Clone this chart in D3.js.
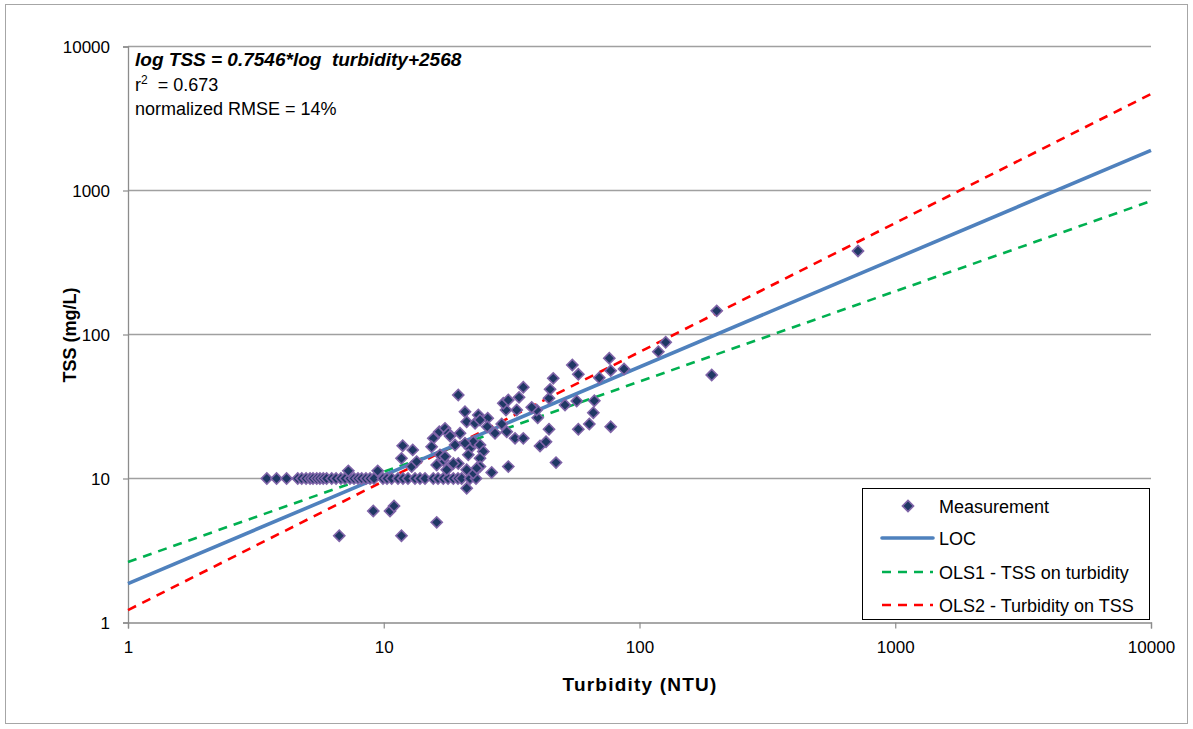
<!DOCTYPE html>
<html><head><meta charset="utf-8">
<script src="https://cdn.jsdelivr.net/npm/d3@7/dist/d3.min.js"></script>
<style>body{margin:0;background:#fff}svg{display:block;font-family:"Liberation Sans",Arial,sans-serif}</style>
</head><body><svg id="c" width="1193" height="729"></svg>
<script>
// ---- data ----
const turbidity = [3.49,3.81,4.17,4.61,4.78,4.97,5.15,5.29,5.47,5.63,5.80,5.98,6.26,6.51,6.80,7.06,7.38,7.65,7.93,8.20,8.52,8.84,9.16,9.93,10.3,10.74,11.37,11.89,12.44,13.25,13.86,14.5,15.62,16.3,17.09,17.84,18.71,19.51,20.17,21.74,22.95,
 7.27,9.47,11.86,12.98,11.73,12.86,15.62,16.49,17.36,15.39,16.11,17.09,17.63,19.56,20.78,21.10,23.43,22.75,21.74,22.39,19.56,21.10,22.39,19.0,19.87,17.88,16.59,18.16,20.78,23.79,24.51,23.79,21.41,21.10,23.79,17.36,18.71,13.45,25.5,27.23,25.40,28.92,30.26,32.61,35.13,30.69,26.43,47.16,40.83,43.10,44.28,57.65,63.65,77.15,65.99,66.59,56.82,51.14,39.99,39.63,37.89,33.11,30.06,29.34,30.69,33.81,35.13,44.28,44.7,46.0,54.62,57.65,69.62,76.2,77.15,87.0,118.5,126.6,191.6,200.4,715,23.09,23.79,6.70,9.10,10.58,10.97,11.73,16.11];
const tss = [10,10,10,10,10,10,10,10,10,10,10,10,10,10,10,10,10,10,10,10,10,10,10,10,10,10,10,10,10,10,10,10,10,10,10,10,10,10,10,10,10,
 11.3,11.3,16.9,15.8,13.8,12.1,19.0,21.1,22.3,16.6,12.4,13.4,11.5,38.0,29.1,24.8,27.6,24.2,16.2,18.0,12.7,8.55,10.9,17.1,20.6,20.6,14.6,19.7,17.6,17.1,15.4,13.8,14.6,11.5,12.1,14.2,12.7,13.1,26.2,20.6,22.9,23.9,21.1,19.0,19.0,12.1,11.0,12.9,16.8,18.0,22.0,22.0,23.9,22.9,28.6,34.7,34.5,32.4,26.4,29.9,31.2,29.9,29.9,33.3,35.1,36.6,43.0,36.1,41.6,49.6,61.4,52.9,50.1,68.4,56.1,57.6,76.0,88.3,52.3,146,380,11.8,25.5,4.0,5.95,5.95,6.44,4.0,4.96];
const lineX = [1, 10000];
const locY  = [1.86, 1900];
const ols1Y = [2.63, 845];
const ols2Y = [1.22, 4680];
const xTicks = [1, 10, 100, 1000, 10000];
const yTicks = [1, 10, 100, 1000, 10000];
const legendLabels = ["Measurement", "LOC", "OLS1 - TSS on turbidity", "OLS2 - Turbidity on TSS"];

// ---- chart ----
const svg = d3.select("#c");
const L = 128, R = 1151, T = 46.5, B = 622.5;
const x = d3.scaleLog().domain([1, 10000]).range([L, R]);
const y = d3.scaleLog().domain([1, 10000]).range([B, T]);

svg.append("rect").attr("x", 5.5).attr("y", 4.5).attr("width", 1182).attr("height", 719)
  .attr("fill", "#fff").attr("stroke", "#a6a6a6").attr("stroke-width", 1);

// gridlines
svg.append("g").selectAll("line").data(yTicks.slice(1)).join("line")
  .attr("x1", L).attr("x2", R).attr("y1", d => y(d)).attr("y2", d => y(d))
  .attr("stroke", "#a0a0a0").attr("stroke-width", 1.3);

// axes
const fmt = d => String(d);
const yAxis = svg.append("g").attr("transform", `translate(${L},0)`)
  .call(d3.axisLeft(y).tickValues(yTicks).tickFormat(fmt).tickSize(5).tickPadding(13));
const xAxis = svg.append("g").attr("transform", `translate(0,${B})`)
  .call(d3.axisBottom(x).tickValues(xTicks).tickFormat(fmt).tickSize(6).tickPadding(12));
[xAxis, yAxis].forEach(g => {
  g.select(".domain").attr("stroke", "#8c8c8c").attr("stroke-width", 1.3);
  g.selectAll(".tick line").attr("stroke", "#8c8c8c").attr("stroke-width", 1.2);
  g.selectAll(".tick text").attr("fill", "#000").style("font-size", "17px")
   .style("font-family", '"Liberation Sans", Arial, sans-serif');
});
yAxis.selectAll(".tick text").attr("dy", "0.36em");

// axis titles
svg.append("text").attr("x", 640).attr("y", 691).attr("text-anchor", "middle")
  .style("font-size", "19px").style("font-weight", "bold").style("letter-spacing", "1.2px").text("Turbidity (NTU)");
svg.append("text").attr("transform", "translate(76,335) rotate(-90)").attr("text-anchor", "middle")
  .style("font-size", "18px").style("font-weight", "bold").text("TSS (mg/L)");

// lines
const lineGen = d3.line().x(d => x(d[0])).y(d => y(d[1]));
const mk = ys => lineX.map((v, i) => [v, ys[i]]);
svg.append("path").datum(mk(ols1Y)).attr("d", lineGen).attr("fill", "none")
  .attr("stroke", "#00b050").attr("stroke-width", 2.6).attr("stroke-dasharray", "9,7");
svg.append("path").datum(mk(ols2Y)).attr("d", lineGen).attr("fill", "none")
  .attr("stroke", "#ff0000").attr("stroke-width", 2.6).attr("stroke-dasharray", "9,7");
svg.append("path").datum(mk(locY)).attr("d", lineGen).attr("fill", "none")
  .attr("stroke", "#4f81bd").attr("stroke-width", 3.6);

// points
const pts = turbidity.map((t, i) => [t, tss[i]]);
const diamond = d3.symbol().type(d3.symbolSquare).size(62);
svg.append("g").selectAll("path").data(pts).join("path")
  .attr("d", diamond)
  .attr("transform", d => `translate(${x(d[0])},${y(d[1])}) rotate(45)`)
  .attr("fill", "#1f3864").attr("stroke", "#7f64a8").attr("stroke-width", 1.6);

// annotation
const ann = svg.append("g").style("font-size", "18px");
ann.append("text").attr("x", 135).attr("y", 66).style("font-weight", "bold").style("font-style", "italic")
  .style("font-size", "19px").style("white-space", "pre").text("log TSS = 0.7546*log  turbidity+2568");
const r2 = ann.append("text").attr("x", 135).attr("y", 91).style("white-space", "pre");
r2.append("tspan").text("r");
r2.append("tspan").attr("dy", -7).style("font-size", "12px").text("2");
r2.append("tspan").attr("dy", 7).text("  = 0.673");
ann.append("text").attr("x", 135).attr("y", 115).text("normalized RMSE = 14%");

// legend
const lg = svg.append("g");
lg.append("rect").attr("x", 862.5).attr("y", 488.5).attr("width", 287).attr("height", 131)
  .attr("fill", "#fff").attr("stroke", "#000").attr("stroke-width", 1);
const ly = [506, 538, 572, 605];
lg.append("path").attr("d", diamond).attr("transform", `translate(908,${ly[0]}) rotate(45)`)
  .attr("fill", "#1f3864").attr("stroke", "#7f64a8").attr("stroke-width", 1.6);
lg.append("line").attr("x1", 882).attr("x2", 933).attr("y1", ly[1]).attr("y2", ly[1])
  .attr("stroke", "#4f81bd").attr("stroke-width", 3.6).attr("stroke-linecap", "round");
lg.append("line").attr("x1", 882).attr("x2", 933).attr("y1", ly[2]).attr("y2", ly[2])
  .attr("stroke", "#00b050").attr("stroke-width", 2.6).attr("stroke-dasharray", "9,7");
lg.append("line").attr("x1", 882).attr("x2", 933).attr("y1", ly[3]).attr("y2", ly[3])
  .attr("stroke", "#ff0000").attr("stroke-width", 2.6).attr("stroke-dasharray", "9,7");
lg.selectAll("text.l").data(legendLabels).join("text").attr("class", "l")
  .attr("x", 939).attr("y", (d, i) => ly[i] + 7).style("font-size", "18px").text(d => d);
</script></body></html>
